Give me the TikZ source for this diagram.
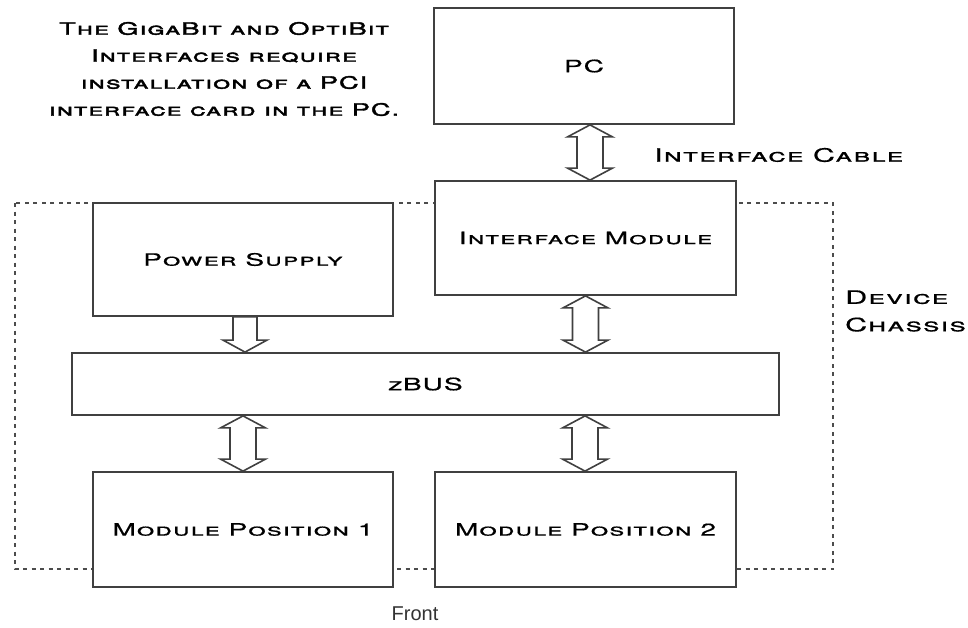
\documentclass[tikz,border=0pt]{standalone}
\usepackage{fontspec}
\usetikzlibrary{calc}
\newfontfamily\bank[Letters=SmallCaps,FakeStretch=1.65,LetterSpace=6,FakeBold=0.6]{TeX Gyre Heros}
\newfontfamily\bankbold[Letters=SmallCaps,FakeStretch=1.6,LetterSpace=6,FakeBold=2.2]{TeX Gyre Heros}
\setmainfont{Liberation Sans}
\tikzset{
  box/.style={draw=black!75,line width=1.8pt,fill=white,inner sep=0pt,
    font=\bank\fontsize{17}{17}\selectfont},
  lbl/.style={inner sep=0pt,font=\bank\fontsize{18.5}{18.5}\selectfont},
  chassis/.style={draw=black!70,line width=1.6pt,dash pattern=on 4pt off 4.5pt},
  hollow/.style={draw=black!75,line width=1.6pt,fill=white,line join=miter},
}
% vertical double hollow arrow between bottom of #1 and top of #2, at x offset #3
\newcommand\dblarrow[3]{%
  \draw[hollow] let \p1=(#1.south), \p2=(#2.north) in
    ($(\x1,\y1)+(#3,0)$) -- ++(22.5,12) -- ++(-9.5,0) -- ($(\x1,\y2)+(#3,0)+(13,-12)$)
    -- ++(9.5,0) -- ($(\x1,\y2)+(#3,0)$) -- ++(-22.5,-12) -- ++(9.5,0)
    -- ($(\x1,\y1)+(#3,0)+(-13,12)$) -- ++(-9.5,0) -- cycle;}
\newcommand\sglarrow[3]{%
  \draw[hollow] let \p1=(#1.south), \p2=(#2.north) in
    ($(\x1,\y1)+(#3,0)+(-12,0)$) -- ++(24,0) -- ($(\x1,\y2)+(#3,0)+(12,-12)$)
    -- ++(10,0) -- ($(\x1,\y2)+(#3,0)$) -- ++(-22,-12) -- ++(10,0) -- cycle;}
\begin{document}
\begin{tikzpicture}[x=1pt,y=-1pt]
\useasboundingbox (0,0) rectangle (968,627);
\fill[white] (0,0) rectangle (968,627);
\draw[chassis] (15,203) rectangle (833,569);
\node[box,minimum width=300pt,minimum height=116pt] (pc) at (584,66) {PC};
\node[box,minimum width=301pt,minimum height=114pt] (im) at (585.5,238) {Interface Module};
\node[box,minimum width=300pt,minimum height=113pt] (ps) at (243,259.5) {Power Supply};
\node[box,minimum width=707pt,minimum height=62pt] (zbus) at (425.5,384) {zBUS};
\node[box,minimum width=300pt,minimum height=115pt] (mp1) at (243,529.5) {Module Position 1};
\node[box,minimum width=301pt,minimum height=115pt] (mp2) at (585.5,529.5) {Module Position 2};
\dblarrow{pc}{im}{6}
\dblarrow{im}{zbus}{0}
\sglarrow{ps}{zbus}{2}
\dblarrow{zbus}{mp1}{-182.5}
\dblarrow{zbus}{mp2}{159.5}
\node[lbl,anchor=west] (cable) at (654,155) {Interface Cable};
\node[lbl,anchor=west,align=left] (dev) at (845,311) {Device\\[9pt]Chassis};
\node[inner sep=0pt,font=\fontsize{20}{20}\selectfont,text=black!80] (front) at (415,614) {Front};
\node[inner sep=0pt,align=center,font=\bankbold\fontsize{17}{27}\selectfont] (note) at (224,69)
  {The GigaBit and OptiBit\\Interfaces require\\installation of a PCI\\interface card in the PC.};
\end{tikzpicture}
\end{document}
